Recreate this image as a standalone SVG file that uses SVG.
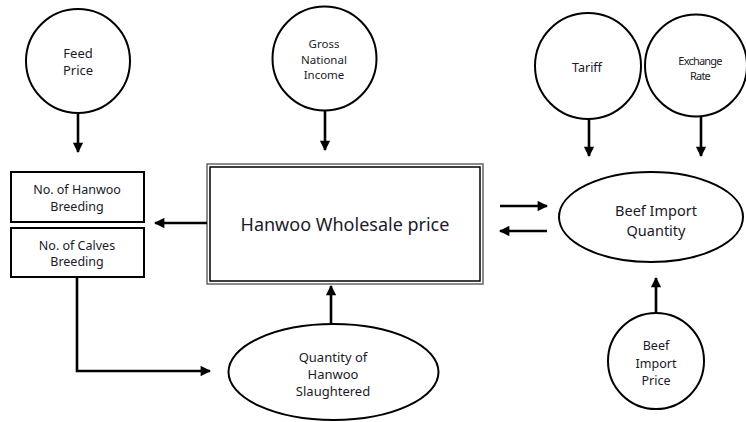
<svg xmlns="http://www.w3.org/2000/svg" width="746" height="422" viewBox="0 0 746 422">
<defs>
<marker id="ah" viewBox="0 0 10 10" refX="9" refY="5" markerWidth="4.2" markerHeight="4" markerUnits="strokeWidth" orient="auto">
<path d="M0,0 L10,5 L0,10 z" fill="#000"/>
</marker>
</defs>
<style>
.n{fill:#fff;stroke:#000;stroke-width:2}
.t{font-family:"Noto Sans","Liberation Sans",sans-serif;font-size:12.5px;fill:#1a1a2a;text-anchor:middle;dominant-baseline:central}
.s{font-size:11.5px}
.c{stroke:#000;stroke-width:2.6;fill:none;marker-end:url(#ah)}
</style>
<rect width="746" height="422" fill="#fff"/>
<g id="feed"><circle class="n" cx="78" cy="61" r="52"/><text class="t" style="font-size:13px"><tspan x="78" y="53">Feed</tspan><tspan x="78" y="70">Price</tspan></text></g>
<g id="gni"><circle class="n" cx="324.5" cy="58.5" r="52"/><text class="t s"><tspan x="324" y="43">Gross</tspan><tspan x="324" y="58.5">National</tspan><tspan x="324" y="74">Income</tspan></text></g>
<g id="tariff"><circle class="n" cx="588" cy="66" r="53"/><text class="t" x="587" y="67">Tariff</text></g>
<g id="exchange"><circle class="n" cx="696" cy="65.5" r="51"/><text class="t" style="font-size:11px;letter-spacing:-0.8px"><tspan x="700" y="60">Exchange</tspan><tspan x="700" y="75">Rate</tspan></text></g>
<g id="hanwoo-breeding"><rect class="n" x="11" y="172" width="133" height="50"/><text class="t"><tspan x="77" y="189">No. of Hanwoo</tspan><tspan x="77" y="206">Breeding</tspan></text></g>
<g id="calves-breeding"><rect class="n" x="11" y="228" width="133" height="49"/><text class="t"><tspan x="77" y="245">No. of Calves</tspan><tspan x="77" y="261">Breeding</tspan></text></g>
<g id="wholesale"><rect x="207" y="164" width="276" height="120" fill="#fff" stroke="#666" stroke-width="1.5"/><rect x="210" y="167" width="270" height="114" fill="none" stroke="#000" stroke-width="1.5"/><text class="t" x="345" y="224" style="font-size:18px">Hanwoo Wholesale price</text></g>
<g id="slaughtered"><ellipse class="n" cx="333.5" cy="372" rx="105" ry="48"/><text class="t" style="font-size:13px"><tspan x="333" y="357">Quantity of</tspan><tspan x="333" y="374">Hanwoo</tspan><tspan x="333" y="391">Slaughtered</tspan></text></g>
<g id="import-qty"><ellipse class="n" cx="651" cy="217" rx="92" ry="45"/><text class="t" style="font-size:14.5px"><tspan x="656" y="210">Beef Import</tspan><tspan x="656" y="230">Quantity</tspan></text></g>
<g id="import-price"><circle class="n" cx="656" cy="361" r="48"/><text class="t"><tspan x="656" y="345">Beef</tspan><tspan x="656" y="363">Import</tspan><tspan x="656" y="380">Price</tspan></text></g>
<g id="connectors">
<line class="c" x1="78" y1="113" x2="78" y2="152"/>
<line class="c" x1="325" y1="111" x2="325" y2="150"/>
<line class="c" x1="589" y1="119" x2="589" y2="156"/>
<line class="c" x1="701" y1="117" x2="701" y2="156"/>
<line class="c" x1="207" y1="223" x2="155" y2="223"/>
<polyline class="c" points="77,277 77,371 210,371"/>
<line class="c" x1="331" y1="324" x2="331" y2="286"/>
<line class="c" x1="500" y1="206" x2="547" y2="206"/>
<line class="c" x1="547" y1="231" x2="500" y2="231"/>
<line class="c" x1="656" y1="313" x2="656" y2="278"/>
</g>
</svg>
